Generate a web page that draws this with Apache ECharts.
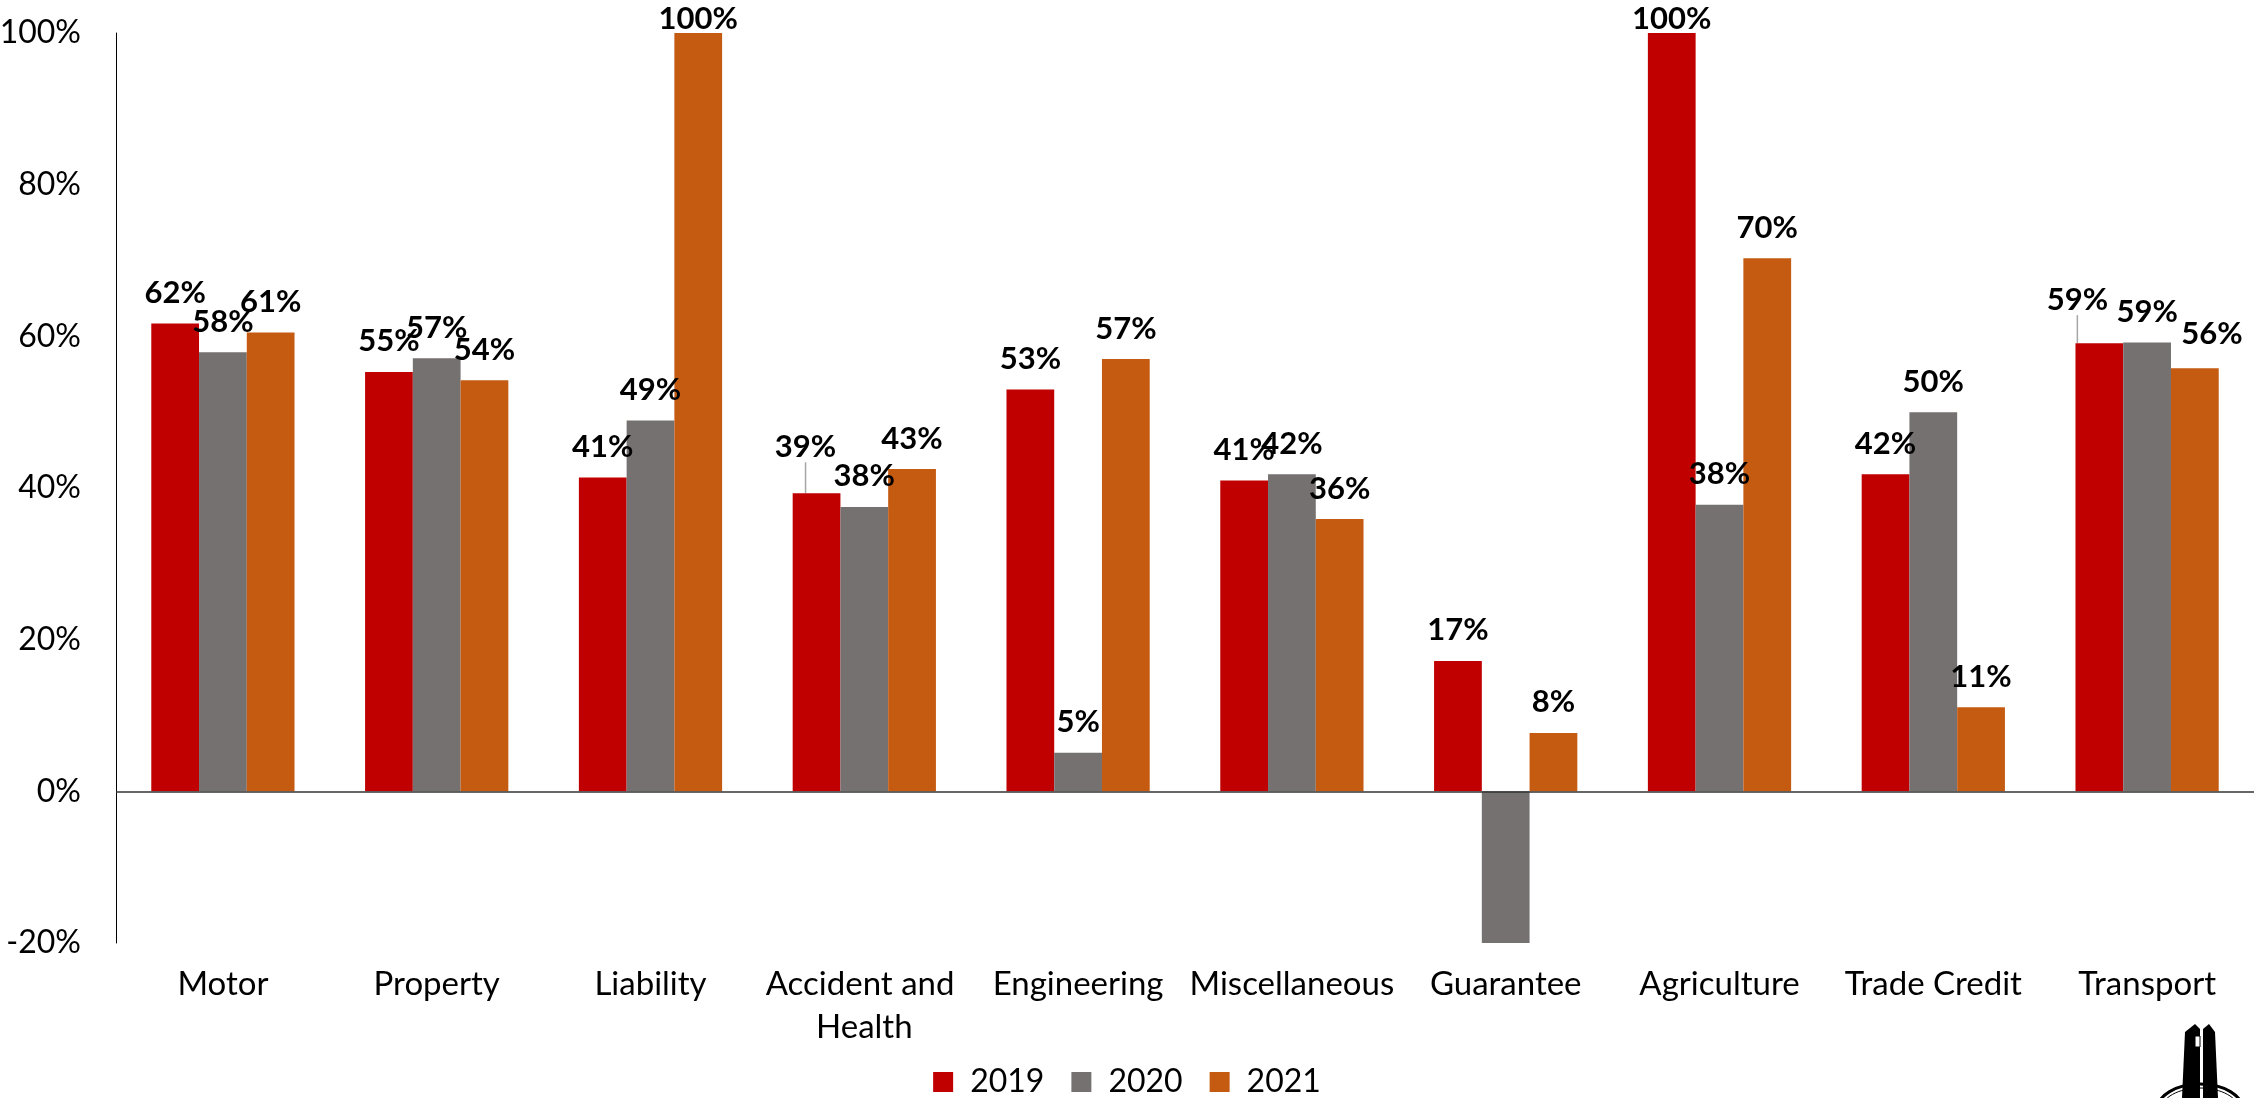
<!DOCTYPE html>
<html>
<head>
<meta charset="utf-8">
<script src="https://cdn.jsdelivr.net/npm/echarts@6/dist/echarts.min.js"></script>
<style>
  html, body { margin: 0; padding: 0; background: #fff; }
  #chart { width: 2254px; height: 1098px; }
</style>
</head>
<body>
<div id="chart"></div>
<script>
const categories = ['Motor', 'Property', 'Liability', 'Accident and Health', 'Engineering', 'Miscellaneous', 'Guarantee', 'Agriculture', 'Trade Credit', 'Transport'];
const seriesNames = ['2019', '2020', '2021'];
const values2019 = [61.7, 55.3, 41.4, 39.3, 53.0, 41.0, 17.2, 100, 41.8, 59.1];
const values2020 = [57.9, 57.1, 48.9, 37.5, 5.1, 41.8, -20.4, 37.8, 50.0, 59.2];
const values2021 = [60.5, 54.2, 100, 42.5, 57.0, 35.9, 7.7, 70.3, 11.1, 55.8];
const yTicks = { min: -20, max: 100, interval: 20 };

const colors = ['#C00000', '#767171', '#C55A11'];
const FONT = 'Lato, "Open Sans", sans-serif';

// label placement tweaks (style only)
const labelMoves = [
  { 3: { dx: -11, dy: -16, line: true }, 7: { dx: 0, dy: 16 }, 9: { dx: -22, dy: -13, line: true } },
  {},
  { 2: { dx: 0, dy: 16 }, 9: { dx: 17, dy: -4 } }
];

function buildData(vals, sIdx) {
  return vals.map((v, i) => {
    const m = labelMoves[sIdx][i];
    if (m && m.line) {
      return { value: v, labelLine: { show: true, lineStyle: { color: '#A6A6A6', width: 1.5 } } };
    }
    return v;
  });
}

const labelBase = {
  show: true,
  position: 'top',
  distance: 15,
  color: '#000',
  fontFamily: FONT,
  fontWeight: 'bold',
  fontSize: 31,
  formatter: p => (p.value < 0 ? '' : Math.round(p.value) + '%')
};

const allValues = [values2019, values2020, values2021];
const series = allValues.map((vals, sIdx) => {
  const s = {
    name: seriesNames[sIdx],
    type: 'bar',
    data: buildData(vals, sIdx),
    barGap: '0%',
    barCategoryGap: '33%',
    itemStyle: { color: colors[sIdx] },
    label: labelBase,
    labelLine: { show: false },
    labelLayout: p => {
      const m = labelMoves[sIdx][p.dataIndex];
      return m ? { dx: m.dx, dy: m.dy } : {};
    },
    emphasis: { disabled: true },
    animation: false
  };
  if (sIdx === 0) {
    s.markLine = {
      silent: true,
      symbol: ['none', 'none'],
      label: { show: false },
      lineStyle: { color: '#333333', width: 1.5, type: 'solid' },
      emphasis: { disabled: true },
      data: [{ yAxis: 0 }],
      animation: false
    };
  }
  return s;
});

const chart = echarts.init(document.getElementById('chart'), null, { renderer: 'canvas' });
chart.setOption({
  backgroundColor: '#ffffff',
  animation: false,
  grid: { left: 116, right: 0, top: 33, bottom: 155, containLabel: false, outerBoundsMode: 'none' },
  legend: {
    data: seriesNames,
    left: 'center',
    top: 1061,
    icon: 'rect',
    itemWidth: 20,
    itemHeight: 20,
    itemGap: 27,
    textStyle: { fontFamily: FONT, fontSize: 32, color: '#000', padding: [0, 0, 0, 12] },
    selectedMode: false
  },
  xAxis: {
    type: 'category',
    data: categories,
    axisLine: { show: false },
    axisTick: { show: false },
    splitLine: { show: false },
    axisLabel: {
      interval: 0,
      margin: 20,
      color: '#000',
      fontFamily: FONT,
      fontSize: 33,
      lineHeight: 43,
      width: 210,
      overflow: 'break'
    }
  },
  yAxis: {
    type: 'value',
    min: yTicks.min,
    max: yTicks.max,
    interval: yTicks.interval,
    axisLine: { show: true, lineStyle: { color: '#000', width: 1 } },
    axisTick: { show: false },
    splitLine: { show: false },
    axisLabel: {
      margin: 35,
      color: '#000',
      fontFamily: FONT,
      fontSize: 32,
      formatter: '{value}%'
    }
  },
  series: series,
  graphic: [
    { type: 'ellipse', shape: { cx: 2200, cy: 1110, rx: 43, ry: 26 }, style: { fill: 'none', stroke: '#000', lineWidth: 3 }, silent: true },
    { type: 'ellipse', shape: { cx: 2200, cy: 1110, rx: 39, ry: 22 }, style: { fill: 'none', stroke: '#000', lineWidth: 1 }, silent: true },
    { type: 'polygon', shape: { points: [[2182, 1098], [2185, 1032], [2195, 1024], [2200, 1029], [2200, 1098]] }, style: { fill: '#000' }, silent: true },
    { type: 'polygon', shape: { points: [[2203, 1098], [2203, 1029], [2209, 1024], [2215, 1032], [2218, 1098]] }, style: { fill: '#000' }, silent: true },
    { type: 'rect', shape: { x: 2195, y: 1036, width: 5, height: 11 }, style: { fill: '#fff', stroke: '#000', lineWidth: 1 }, silent: true }
  ]
});
</script>
</body>
</html>
